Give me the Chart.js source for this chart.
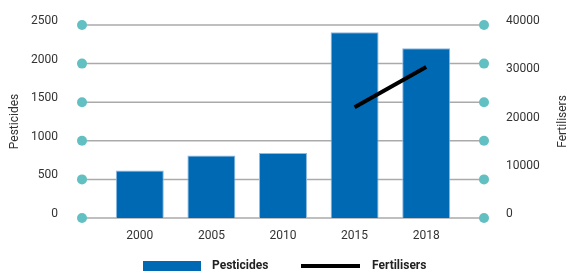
<!DOCTYPE html>
<html>
<head>
<meta charset="utf-8">
<script src="https://cdn.jsdelivr.net/npm/chart.js@4"></script>
<style>
  body { margin: 0; background: #fff; }
  #wrap { width: 568px; height: 273px; position: relative; }
</style>
</head>
<body>
<div id="wrap"><canvas id="chart"></canvas></div>
<script>
let years = ['2000', '2005', '2010', '2015', '2018'];
let pesticides = [616, 811, 841, 2406, 2198];
let fertilisers = [null, null, null, 22950, 31300];

let blue = '#0069b4';
let teal = '#62c0c3';
let fontName = 'Roboto';

// grid lines that run past the plot, with round dots on both ends,
// plus the right axis title and the legend row
let extras = {
    id: 'extras',
    beforeDatasetsDraw(chart) {
        let ctx = chart.ctx;
        let y = chart.scales.y;
        let area = chart.chartArea;
        ctx.save();
        ctx.strokeStyle = '#aaaaaa';
        ctx.lineWidth = 1.5;
        y.ticks.forEach(function (t) {
            let py = y.getPixelForValue(t.value);
            ctx.beginPath();
            ctx.moveTo(area.left - 22, py);
            ctx.lineTo(area.right + 22, py);
            ctx.stroke();
        });
        ctx.restore();
    },
    afterDraw(chart) {
        let ctx = chart.ctx;
        let y = chart.scales.y;
        let area = chart.chartArea;
        ctx.save();
        ctx.fillStyle = teal;
        y.ticks.forEach(function (t) {
            let py = y.getPixelForValue(t.value);
            [area.left - 22, area.right + 22].forEach(function (px) {
                ctx.beginPath();
                ctx.arc(px, py, 5, 0, Math.PI * 2);
                ctx.fill();
            });
        });
        ctx.restore();

        // right axis title, reads bottom to top like the left one
        ctx.save();
        ctx.fillStyle = '#333';
        ctx.font = '12px ' + fontName;
        ctx.textAlign = 'center';
        ctx.textBaseline = 'middle';
        ctx.translate(563, (area.top + area.bottom) / 2);
        ctx.rotate(-Math.PI / 2);
        ctx.fillText('Fertilisers', 0, 0);
        ctx.restore();

        // legend
        let bar = chart.data.datasets[1];
        let line = chart.data.datasets[0];
        let ly = 266;
        ctx.save();
        ctx.fillStyle = bar.backgroundColor;
        ctx.fillRect(143, ly - 5, 58, 10);
        ctx.strokeStyle = line.borderColor;
        ctx.lineWidth = 4;
        ctx.beginPath();
        ctx.moveTo(301, ly);
        ctx.lineTo(360, ly);
        ctx.stroke();
        ctx.fillStyle = '#222';
        ctx.font = 'bold 12px ' + fontName;
        ctx.textAlign = 'left';
        ctx.textBaseline = 'middle';
        ctx.fillText(bar.label, 212, ly);
        ctx.fillText(line.label, 372, ly);
        ctx.restore();
    }
};

// the wide tick padding would otherwise push the plot down
function fixSide(width) {
    return function (s) {
        s.width = width;
        s.paddingTop = 0;
        s.paddingBottom = 0;
    };
}

new Chart(document.getElementById('chart'), {
    data: {
        labels: years,
        datasets: [{
            type: 'line',
            label: 'Fertilisers',
            data: fertilisers,
            yAxisID: 'y1',
            borderColor: '#000',
            backgroundColor: '#000',
            borderWidth: 4,
            pointRadius: 0,
            order: 0
        }, {
            type: 'bar',
            label: 'Pesticides',
            data: pesticides,
            yAxisID: 'y',
            backgroundColor: blue,
            borderColor: '#8fb9e0',
            borderWidth: 1,
            barPercentage: 0.67,
            categoryPercentage: 1,
            order: 1
        }]
    },
    options: {
        responsive: true,
        maintainAspectRatio: false,
        animation: false,
        layout: { padding: { top: 25, bottom: 0 } },
        scales: {
            x: {
                grid: { display: false, drawTicks: false },
                border: { display: false },
                ticks: { color: '#333', font: { family: fontName, size: 12 }, padding: 11 },
                afterFit: function (s) { s.height = 55; }
            },
            y: {
                position: 'left',
                min: 0,
                max: 2500,
                grid: { display: false, drawTicks: false },
                border: { display: false },
                ticks: {
                    stepSize: 500, color: '#333', font: { family: fontName, size: 12 },
                    padding: 46, labelOffset: -4,
                    callback: function (v) { return String(v); }
                },
                title: { display: true, text: 'Pesticides', color: '#333', font: { family: fontName, size: 12 }, padding: { top: 8, bottom: 0 } },
                afterFit: fixSide(104)
            },
            y1: {
                position: 'right',
                min: 0,
                max: 40000,
                grid: { display: false, drawTicks: false },
                border: { display: false },
                ticks: {
                    stepSize: 10000, color: '#333', font: { family: fontName, size: 12 },
                    padding: 44, labelOffset: -4,
                    callback: function (v) { return String(v); }
                },
                afterFit: fixSide(106)
            }
        },
        plugins: {
            legend: { display: false },
            tooltip: { enabled: false }
        }
    },
    plugins: [extras]
});
</script>
</body>
</html>
